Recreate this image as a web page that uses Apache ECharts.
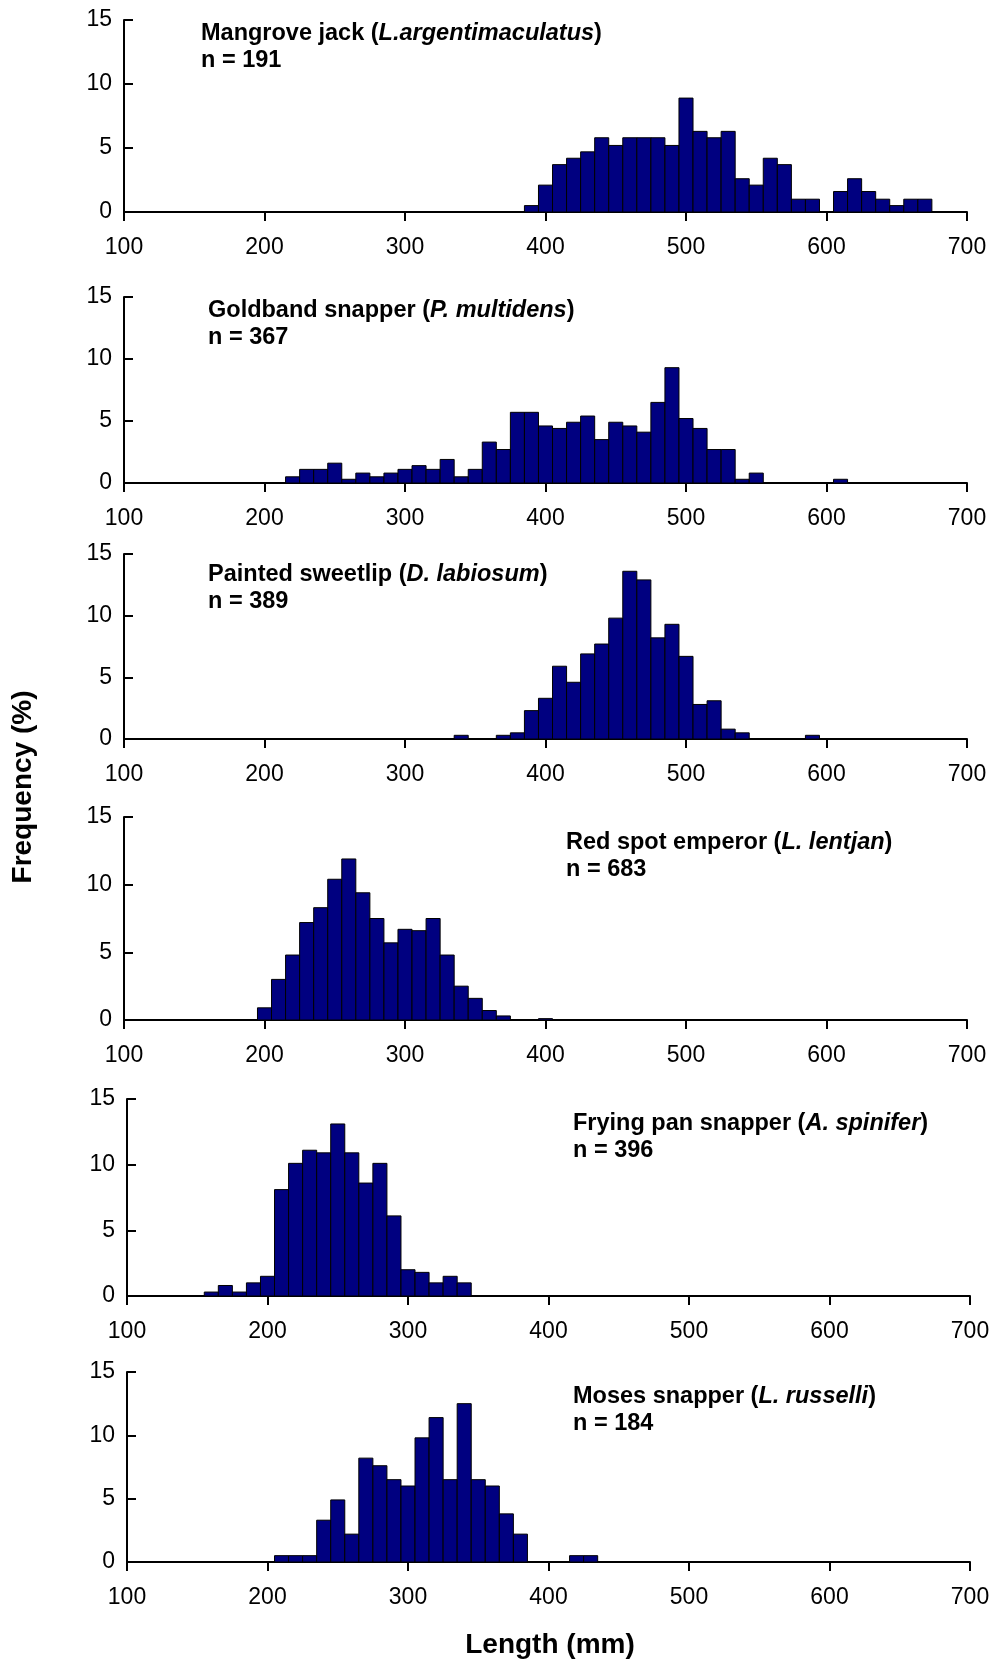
<!DOCTYPE html>
<html><head><meta charset="utf-8">
<script src="https://cdn.jsdelivr.net/npm/echarts@6/dist/echarts.min.js"></script>
<style>html,body{margin:0;padding:0;background:#fff}#c{width:993px;height:1661px}</style>
</head><body><div id="c"></div><script>
// ---- data (bin centre length in mm, frequency in %) ----
const xTickValues = [100, 200, 300, 400, 500, 600, 700];
const yTickValues = [0, 5, 10, 15];

const mangroveLength = [390,400,410,420,430,440,450,460,470,480,490,500,510,520,530,540,550,560,570,580,590,600,610,620,630,640,650,660,670];
const mangroveFreq   = [0.5,2.1,3.7,4.2,4.7,5.8,5.2,5.8,5.8,5.8,5.2,8.9,6.3,5.8,6.3,2.6,2.1,4.2,3.7,1.0,1.0,0,1.6,2.6,1.6,1.0,0.5,1.0,1.0];

const goldbandLength = [220,230,240,250,260,270,280,290,300,310,320,330,340,350,360,370,380,390,400,410,420,430,440,450,460,470,480,490,500,510,520,530,540,550,610];
const goldbandFreq   = [0.5,1.1,1.1,1.6,0.3,0.8,0.5,0.8,1.1,1.4,1.1,1.9,0.5,1.1,3.3,2.7,5.7,5.7,4.6,4.4,4.9,5.4,3.5,4.9,4.6,4.1,6.5,9.3,5.2,4.4,2.7,2.7,0.3,0.8,0.3];

const sweetlipLength = [340,370,380,390,400,410,420,430,440,450,460,470,480,490,500,510,520,530,540,590];
const sweetlipFreq   = [0.3,0.3,0.5,2.3,3.3,5.9,4.6,6.9,7.7,9.8,13.6,12.9,8.2,9.3,6.7,2.8,3.1,0.8,0.5,0.3];

const emperorLength = [200,210,220,230,240,250,260,270,280,290,300,310,320,330,340,350,360,370,400];
const emperorFreq   = [0.9,3.0,4.8,7.2,8.3,10.4,11.9,9.4,7.5,5.7,6.7,6.6,7.5,4.8,2.5,1.6,0.7,0.3,0.1];

const fryingLength = [160,170,180,190,200,210,220,230,240,250,260,270,280,290,300,310,320,330,340];
const fryingFreq   = [0.3,0.8,0.3,1.0,1.5,8.1,10.1,11.1,10.9,13.1,10.9,8.6,10.1,6.1,2.0,1.8,1.0,1.5,1.0];

const mosesLength = [210,220,230,240,250,260,270,280,290,300,310,320,330,340,350,360,370,380,420,430];
const mosesFreq   = [0.5,0.5,0.5,3.3,4.9,2.2,8.2,7.6,6.5,6.0,9.8,11.4,6.5,12.5,6.5,6.0,3.8,2.2,0.5,0.5];

const commonNames = ['Mangrove jack (', 'Goldband snapper (', 'Painted sweetlip (', 'Red spot emperor (', 'Frying pan snapper (', 'Moses snapper ('];
const latinNames  = ['L.argentimaculatus', 'P. multidens', 'D. labiosum', 'L. lentjan', 'A. spinifer', 'L. russelli'];
const sampleSizes = ['n = 191', 'n = 367', 'n = 389', 'n = 683', 'n = 396', 'n = 184'];
const binWidth = 10;

// ---- layout ----
const FONT = '"Liberation Sans", Arial, Helvetica, sans-serif';
const panels = [
  {len: mangroveLength, freq: mangroveFreq, left: 124, right: 967, top: 20,   bottom: 212,  tx: 201, ty: 34},
  {len: goldbandLength, freq: goldbandFreq, left: 124, right: 967, top: 297,  bottom: 483,  tx: 208, ty: 311},
  {len: sweetlipLength, freq: sweetlipFreq, left: 124, right: 967, top: 554,  bottom: 739,  tx: 208, ty: 575},
  {len: emperorLength,  freq: emperorFreq,  left: 124, right: 967, top: 817,  bottom: 1020, tx: 566, ty: 843},
  {len: fryingLength,   freq: fryingFreq,   left: 127, right: 970, top: 1099, bottom: 1296, tx: 573, ty: 1124},
  {len: mosesLength,    freq: mosesFreq,    left: 127, right: 970, top: 1372, bottom: 1562, tx: 573, ty: 1397}
];

const chart = echarts.init(document.getElementById('c'), null, {renderer: 'canvas'});
const grid = [], xAxis = [], yAxis = [], series = [], graphic = [];

panels.forEach((p, i) => {
  grid.push({left: p.left, top: p.top, width: p.right - p.left, height: p.bottom - p.top, containLabel: false});
  xAxis.push({
    gridIndex: i, type: 'value', min: xTickValues[0], max: xTickValues[xTickValues.length - 1], interval: 100,
    axisLine: {show: true, onZero: false, lineStyle: {color: '#000', width: 2}},
    axisTick: {show: true, inside: false, length: 9, lineStyle: {color: '#000', width: 2}},
    axisLabel: {show: true, color: '#000', fontSize: 23, fontFamily: FONT, margin: 24, showMinLabel: true, showMaxLabel: true},
    splitLine: {show: false}
  });
  yAxis.push({
    gridIndex: i, type: 'value', min: yTickValues[0], max: yTickValues[yTickValues.length - 1], interval: 5,
    axisLine: {show: true, onZero: false, lineStyle: {color: '#000', width: 2}},
    axisTick: {show: true, inside: true, length: 9, lineStyle: {color: '#000', width: 2}},
    axisLabel: {show: true, color: '#000', fontSize: 23, fontFamily: FONT, margin: 12, showMinLabel: true, showMaxLabel: true},
    splitLine: {show: false}
  });
  const data = p.len.map((l, k) => [l, p.freq[k]]).filter(d => d[1] > 0);
  series.push({
    type: 'custom', xAxisIndex: i, yAxisIndex: i, data: data, z: 1,
    encode: {x: 0, y: 1},
    renderItem: function (params, api) {
      const x = api.value(0), y = api.value(1);
      const a = api.coord([x - binWidth / 2, 0]);
      const b = api.coord([x + binWidth / 2, y]);
      return {
        type: 'rect',
        shape: {x: a[0], y: b[1], width: b[0] - a[0], height: a[1] - b[1]},
        style: {fill: '#000080', stroke: '#000', lineWidth: 1}
      };
    }
  });
  graphic.push({
    type: 'text', x: p.tx, y: p.ty,
    style: {
      text: '{b|' + commonNames[i] + '}{i|' + latinNames[i] + '}{b|)}',
      verticalAlign: 'middle',
      rich: {
        b: {fontFamily: FONT, fontWeight: 'bold', fontSize: 23.5, fill: '#000'},
        i: {fontFamily: FONT, fontWeight: 'bold', fontStyle: 'italic', fontSize: 23.5, fill: '#000'}
      }
    }
  });
  graphic.push({
    type: 'text', x: p.tx, y: p.ty + 27,
    style: {text: sampleSizes[i], font: 'bold 23.5px ' + FONT, fill: '#000', verticalAlign: 'middle'}
  });
});

graphic.push({
  type: 'text', x: 23, y: 787, rotation: Math.PI / 2,
  style: {text: 'Frequency (%)', font: 'bold 28px ' + FONT, fill: '#000', align: 'center', verticalAlign: 'middle'}
});
graphic.push({
  type: 'text', x: 550, y: 1645,
  style: {text: 'Length (mm)', font: 'bold 28px ' + FONT, fill: '#000', align: 'center', verticalAlign: 'middle'}
});

chart.setOption({animation: false, backgroundColor: '#fff', grid, xAxis, yAxis, series, graphic});
</script></body></html>
